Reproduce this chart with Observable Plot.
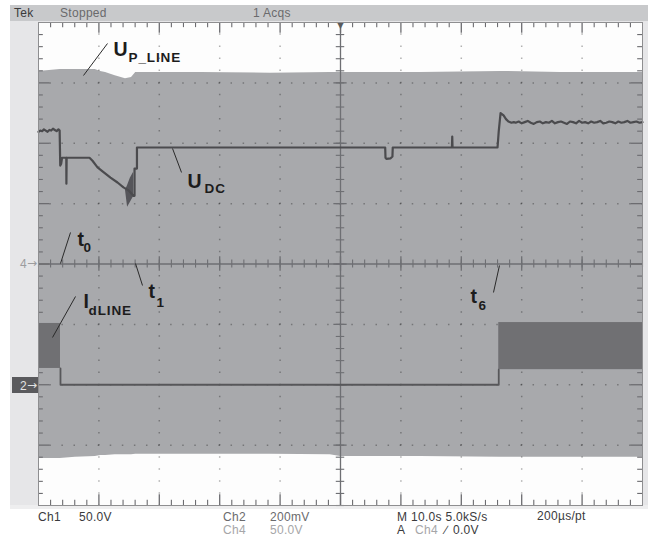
<!DOCTYPE html>
<html><head><meta charset="utf-8">
<script src="https://cdn.jsdelivr.net/npm/d3@7"></script>
<script src="https://cdn.jsdelivr.net/npm/@observablehq/plot@0.6"></script>
<style>
html,body{margin:0;padding:0;background:#fff;}
#wrap{position:relative;width:648px;height:540px;overflow:hidden;font-family:"Liberation Sans",Arial,sans-serif;}
.bg{position:absolute;}
.t{position:absolute;font-size:12px;line-height:12px;color:#3a3a3c;white-space:nowrap;letter-spacing:0.3px;}
.lt{color:#a6a6a8;}
.ar{font-family:"DejaVu Sans",sans-serif;font-size:12px;letter-spacing:0;}
#chart{position:absolute;left:0;top:0;}
</style></head>
<body><div id="wrap">
<div class="bg" style="left:10px;top:5px;width:638px;height:16px;background:#c8c9cb"></div>
<div class="bg" style="left:10px;top:21px;width:638px;height:2px;background:#e6e6e8"></div>
<div class="bg" style="left:10px;top:21px;width:28px;height:488px;background:#e6e6e8"></div>
<div class="bg" style="left:642px;top:21px;width:6px;height:488px;background:#e6e6e8"></div>
<div class="bg" style="left:10px;top:505px;width:638px;height:4px;background:#eeeeef"></div>
<div id="chart"></div>
<span class="t" style="left:14px;top:7px">Tek</span>
<span class="t" style="left:60px;top:7px;color:#6a6a6c">Stopped</span>
<span class="t" style="left:253px;top:7px;color:#6a6a6c">1 Acqs</span>
<span class="t" style="left:38px;top:511px">Ch1</span>
<span class="t" style="left:79px;top:511px">50.0V</span>
<span class="t" style="left:223px;top:511px;color:#6a6a6c">Ch2</span>
<span class="t" style="left:270px;top:511px;color:#6a6a6c">200mV</span>
<span class="t lt" style="left:223px;top:524px">Ch4</span>
<span class="t lt" style="left:270px;top:524px">50.0V</span>
<span class="t" style="left:397px;top:511px">M 10.0s 5.0kS/s</span>
<span class="t" style="left:397px;top:524px">A</span>
<span class="t lt" style="left:415px;top:524px">Ch4</span>
<span class="t" style="left:445px;top:524px">∕</span>
<span class="t" style="left:453px;top:524px">0.0V</span>
<span class="t" style="left:537px;top:510px">200µs/pt</span>
<span class="t" style="left:20px;top:258px;color:#9c9c9e">4</span>
<span class="t ar" style="left:27px;top:257px;color:#9c9c9e">→</span>
<div class="bg" style="left:12px;top:377px;width:26px;height:16px;background:#5a5a5d"></div>
<span class="t" style="left:20px;top:380px;color:#e2e2e2">2</span>
<span class="t ar" style="left:27px;top:379px;color:#e2e2e2">→</span>
</div>
<script>
// time axis: seconds (10 s/div), vertical: screen divisions from centre
// Ch4 U_P_LINE envelope
const upTime = [0, 3.6, 6.1, 9.4, 10.3, 11.1, 12.7, 14.4, 15.4, 16.1, 26.8, 38.4, 48.3, 50, 63.2, 76.5, 86.4, 100];
const upHigh = [3.19, 3.22, 3.22, 3.22, 3.19, 3.17, 3.12, 3.07, 3.09, 3.17, 3.17, 3.16, 3.17, 3.17, 3.17, 3.19, 3.17, 3.17];
const upLow  = [-3.22, -3.22, -3.2, -3.19, -3.17, -3.17, -3.16, -3.16, -3.16, -3.15, -3.15, -3.15, -3.16, -3.19, -3.19, -3.2, -3.2, -3.2];

// Ch1 U_DC trace
const udcTime = [0, 0.3, 0.6, 0.9, 1.2, 1.5, 1.8, 2.1, 2.4, 2.7, 3.0, 3.3, 3.5,
  3.6, 3.75, 3.9, 4.6, 4.62, 4.66, 8.44, 8.94, 9.77, 10.76, 11.92, 13.08, 14.07, 14.9,
  15.7, 15.9, 15.9, 16.3, 16.3, 57.4, 57.45, 57.6, 58.3, 58.6, 58.65, 68.45, 68.5, 68.55,
  76.0, 76.2, 76.5, 77.0, 77.4, 77.8, 78.3, 78.7,
  79, 79.5, 80, 80.5, 81, 81.5, 82, 82.5, 83, 83.5, 84, 84.5, 85, 85.5, 86, 86.5, 87, 87.5,
  88, 88.5, 89, 89.5, 90, 90.5, 91, 91.5, 92, 92.5, 93, 93.5, 94, 94.5, 95, 95.5, 96, 96.5,
  97, 97.5, 98, 98.5, 99, 99.5, 100];
const udcLevel = [2.19, 2.21, 2.2, 2.23, 2.21, 2.19, 2.22, 2.21, 2.24, 2.22, 2.2, 2.23, 2.21,
  1.63, 1.66, 1.76, 1.76, 1.33, 1.76, 1.76, 1.71, 1.6, 1.52, 1.43, 1.35, 1.27, 1.22,
  1.13, 1.13, 1.58, 1.58, 1.93, 1.93, 1.76, 1.74, 1.75, 1.78, 1.93, 1.93, 2.11, 1.93,
  1.93, 2.2, 2.5, 2.46, 2.4, 2.36, 2.34, 2.35,
  2.34, 2.36, 2.33, 2.35, 2.37, 2.34, 2.32, 2.35, 2.36, 2.33,
  2.35, 2.34, 2.37, 2.33, 2.35, 2.36, 2.34, 2.32, 2.36, 2.35,
  2.33, 2.37, 2.34, 2.35, 2.33, 2.36, 2.34, 2.35, 2.37, 2.33,
  2.34, 2.36, 2.35, 2.33, 2.36, 2.34, 2.35, 2.37, 2.34, 2.35,
  2.36, 2.34, 2.35];
// oscillation burst on U_DC
const oscTime = [14.4, 14.75, 15.2, 15.75];
const oscHigh = [1.22, 1.3, 1.42, 1.52];
const oscLow  = [1.22, 0.94, 1.02, 1.12];

// Ch2 I_dLINE
const idTime  = [3.64, 3.64, 76.2, 76.2];
const idLevel = [-1.73, -2.0, -2.0, -1.75];
const idBandStart = [0, 76.2];
const idBandEnd   = [3.64, 100];
const idBandLow   = [-1.73, -1.75];
const idBandHigh  = [-0.985, -0.97];

// annotations
const mainText = ["U", "U", "t", "t", "I", "t"];
const mainTime = [12.42, 24.67, 6.46, 18.21, 7.45, 71.52];
const mainLevel = [3.437, 1.267, 0.306, -0.571, -0.737, -0.654];
const subText = ["P_LINE", "DC", "0", "1", "dLINE", "6"];
const subTime = [14.9, 27.48, 7.45, 19.54, 8.28, 72.85];
const subLevel = [3.338, 1.168, 0.207, -0.704, -0.853, -0.77];
const leadT1 = [11.42, 22.19, 5.30, 16.06, 6.13, 76.32];
const leadD1 = [3.652, 1.913, 0.522, 0.008, -0.538, -0.025];
const leadT2 = [7.45, 23.68, 3.64, 17.22, 2.32, 75.33];
const leadD2 = [3.122, 1.516, 0.008, -0.356, -1.217, -0.472];

// graticule
const gridTime = [10, 20, 30, 40, 60, 70, 80, 90];
const gridLevel = [-3, -2, -1, 1, 2, 3];
const trigTime = [50];

const envelope = upTime.map((t, i) => ({t, hi: upHigh[i], lo: upLow[i]}));
const udc = udcTime.map((t, i) => ({t, v: udcLevel[i]}));
const osc = oscTime.map((t, i) => ({t, hi: oscHigh[i], lo: oscLow[i]}));
const id = idTime.map((t, i) => ({t, v: idLevel[i]}));
const bands = idBandStart.map((s, i) => ({s, e: idBandEnd[i], lo: idBandLow[i], hi: idBandHigh[i]}));
const mains = mainText.map((s, i) => ({s, t: mainTime[i], v: mainLevel[i]}));
const subs = subText.map((s, i) => ({s, t: subTime[i], v: subLevel[i]}));
const leads = leadT1.map((t, i) => ({t1: t, v1: leadD1[i], t2: leadT2[i], v2: leadD2[i]}));

const minorT = d3.range(0, 100.001, 2).filter(t => Math.abs(t % 10) > 1e-6 && Math.abs(t % 10 - 10) > 1e-6);
const majorT = d3.range(10, 91, 10);
const minorD = d3.range(-4, 4.001, 0.2).map(d => +d.toFixed(1)).filter(d => Math.abs(d - Math.round(d)) > 1e-6);
const majorD = [-3, -2, -1, 0, 1, 2, 3];
const allT = d3.range(0, 100.001, 2);
const allD = d3.range(-4, 4.001, 0.2).map(d => +d.toFixed(1));

const tickCol = "#6c6c70";
const font = "Liberation Sans, Arial, sans-serif";

const chart = Plot.plot({
  width: 648, height: 540,
  marginLeft: 38, marginRight: 6, marginTop: 22, marginBottom: 35,
  x: {domain: [0, 100], axis: null},
  y: {domain: [-4, 4], axis: null},
  style: {background: "transparent", overflow: "visible"},
  marks: [
    Plot.frame({fill: "#fdfdfd"}),
    Plot.areaY(envelope, {x: "t", y1: "lo", y2: "hi", fill: "#a8a9ac"}),
    Plot.ruleX(gridTime, {stroke: "#000", strokeOpacity: 0.3, strokeWidth: 1.5, strokeDasharray: "1.5,10.58", strokeDashoffset: 0.75}),
    Plot.ruleY(gridLevel, {stroke: "#000", strokeOpacity: 0.3, strokeWidth: 1.5, strokeDasharray: "1.5,10.58", strokeDashoffset: 0.75}),
    Plot.ruleX([50], {stroke: "#6e6f73", strokeWidth: 1.3}),
    Plot.ruleY([0], {stroke: "#6e6f73", strokeWidth: 1.3}),
    // centre ticks
    Plot.ruleX(allT, {x: d => d, y1: -0.068, y2: 0.068, stroke: "#6e6f73", strokeWidth: 1.1}),
    Plot.ruleX(majorT, {x: d => d, y1: -0.12, y2: 0.12, stroke: "#6e6f73", strokeWidth: 1.3}),
    Plot.ruleY(allD, {y: d => d, x1: 49.3, x2: 50.7, stroke: "#6e6f73", strokeWidth: 1.1}),
    Plot.ruleY(majorD, {y: d => d, x1: 48.9, x2: 51.1, stroke: "#6e6f73", strokeWidth: 1.3}),
    // edge ticks
    Plot.ruleX(minorT, {x: d => d, y1: 4, y2: 3.915, stroke: tickCol, strokeWidth: 1.1}),
    Plot.ruleX(majorT, {x: d => d, y1: 4, y2: 3.82, stroke: tickCol, strokeWidth: 1.3}),
    Plot.ruleX(minorT, {x: d => d, y1: -4, y2: -3.915, stroke: tickCol, strokeWidth: 1.1}),
    Plot.ruleX(majorT, {x: d => d, y1: -4, y2: -3.82, stroke: tickCol, strokeWidth: 1.3}),
    Plot.ruleY(minorD, {y: d => d, x1: 0, x2: 0.8, stroke: tickCol, strokeWidth: 1.1}),
    Plot.ruleY(majorD, {y: d => d, x1: 0, x2: 1.9, stroke: tickCol, strokeWidth: 1.3}),
    Plot.ruleY(minorD, {y: d => d, x1: 100, x2: 99.2, stroke: tickCol, strokeWidth: 1.1}),
    Plot.ruleY(majorD, {y: d => d, x1: 100, x2: 98.1, stroke: tickCol, strokeWidth: 1.3}),
    // Ch2 bands and trace
    Plot.rect(bands, {x1: "s", x2: "e", y1: "lo", y2: "hi", fill: "#707073"}),
    Plot.line(id, {x: "t", y: "v", stroke: "#57575a", strokeWidth: 1.8}),
    // Ch1 trace
    Plot.areaY(osc, {x: "t", y1: "lo", y2: "hi", fill: "#55555a"}),
    Plot.line(udc, {x: "t", y: "v", stroke: "#4b4b4e", strokeWidth: 2.2, strokeLinejoin: "round"}),
    // trigger marker
    Plot.text(trigTime, {x: d => d, y: 4, text: () => "▼", fontSize: 9, lineAnchor: "top", dy: -1, fill: "#5a5a5c", fontFamily: "DejaVu Sans"}),
    Plot.frame({stroke: "#8e8e90", strokeWidth: 1}),
    // annotations
    Plot.link(leads, {x1: "t1", y1: "v1", x2: "t2", y2: "v2", stroke: "#2a2a2a", strokeWidth: 1}),
    Plot.text(mains, {x: "t", y: "v", text: "s", fontSize: 19.5, fontWeight: "bold", textAnchor: "start", lineAnchor: "bottom", fill: "#1c1c1c", fontFamily: font}),
    Plot.text(subs, {x: "t", y: "v", text: "s", fontSize: 13.5, fontWeight: "bold", textAnchor: "start", lineAnchor: "bottom", fill: "#1c1c1c", fontFamily: font})
  ]
});
d3.select(chart).selectAll("text").filter(function() { return subText.includes(this.textContent) && this.textContent.length > 1; })
  .style("letter-spacing", "0.9px");
document.getElementById("chart").appendChild(chart);
</script>
</body></html>
